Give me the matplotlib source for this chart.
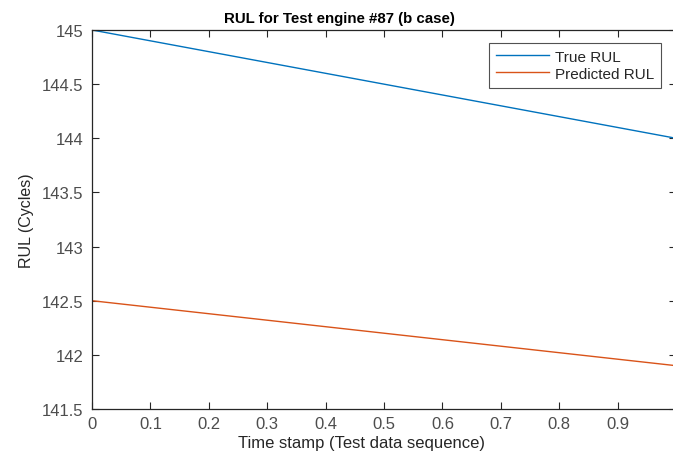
import matplotlib
matplotlib.use("Agg")
import matplotlib.pyplot as plt

# Remaining-useful-life series for test engine #87
time_stamp = [0.0, 1.0]
true_rul = [145.0, 144.0]
predicted_rul = [142.5, 141.9]

x_ticks = [0, 0.1, 0.2, 0.3, 0.4, 0.5, 0.6, 0.7, 0.8, 0.9]
x_tick_labels = ["0", "0.1", "0.2", "0.3", "0.4", "0.5", "0.6", "0.7", "0.8", "0.9"]
y_ticks = [141.5, 142, 142.5, 143, 143.5, 144, 144.5, 145]
y_tick_labels = ["141.5", "142", "142.5", "143", "143.5", "144", "144.5", "145"]

plt.rcParams["font.family"] = ["Liberation Sans", "DejaVu Sans"]
axis_color = (0.15, 0.15, 0.15)
label_color = (0.3, 0.3, 0.3)

fig = plt.figure(figsize=(6.73, 4.60), dpi=100)
ax = fig.add_axes([92 / 673, 1 - 410 / 460, 584 / 673, 379 / 460])

ax.plot(time_stamp, true_rul, color=(0.0, 0.447, 0.741), lw=1.0, label="True RUL")
ax.plot(time_stamp, predicted_rul, color=(0.85, 0.325, 0.098), lw=1.0, label="Predicted RUL")

ax.set_xlim(0, 1)
ax.set_ylim(141.5, 145)
ax.set_xticks(x_ticks)
ax.set_xticklabels(x_tick_labels)
ax.set_yticks(y_ticks)
ax.set_yticklabels(y_tick_labels)

ax.tick_params(direction="in", top=True, right=True, length=5, width=0.8,
               colors=axis_color, labelcolor=label_color, labelsize=12, pad=5)
ax.tick_params(axis="y", pad=6)
for s in ax.spines.values():
    s.set_color(axis_color)
    s.set_linewidth(0.9)

ax.set_xlabel("Time stamp (Test data sequence)", fontsize=12, color=axis_color)
ax.xaxis.set_label_coords(0.4615, -0.068)
ax.set_ylabel("RUL (Cycles)", fontsize=11.5, color=axis_color, labelpad=6)
ax.set_title("RUL for Test engine #87 (b case)", fontsize=10.8, fontweight="bold",
             color="black", x=0.424, pad=6)

leg = ax.legend(loc="upper right", bbox_to_anchor=(0.974, 0.966), fontsize=11,
                frameon=True, fancybox=False, handlelength=3.5, handletextpad=0.35,
                borderpad=0.45, labelspacing=0.2, borderaxespad=0.0)
leg.get_frame().set_edgecolor(axis_color)
leg.get_frame().set_linewidth(0.8)
for t in leg.get_texts():
    t.set_color(axis_color)

fig.savefig("out.png", dpi=100)
